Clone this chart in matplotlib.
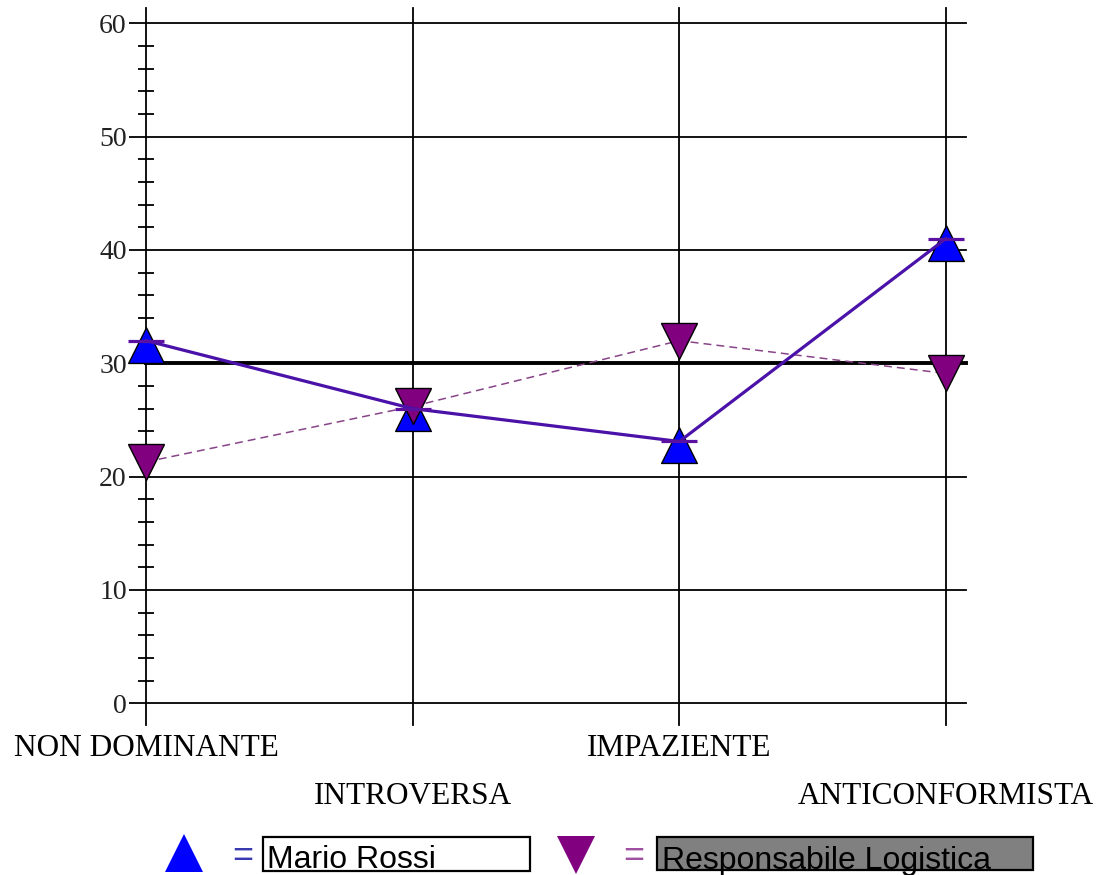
import matplotlib
matplotlib.use("Agg")
import matplotlib.pyplot as plt
from matplotlib.lines import Line2D
from matplotlib.patches import Rectangle

# ---- data ----
categories = ["NON DOMINANTE", "INTROVERSA", "IMPAZIENTE", "ANTICONFORMISTA"]
mario_rossi = [32.0, 26.0, 23.1, 41.0]
responsabile = [21.3, 26.2, 32.0, 29.1]
series_names = ["Mario Rossi", "Responsabile Logistica"]
y_major = [0, 10, 20, 30, 40, 50, 60]
y_minor = [v for v in range(0, 61, 2) if v % 10 != 0]
reference_level = 30

W, H = 1104, 875
fig = plt.figure(figsize=(W / 100, H / 100), dpi=100)
fig.patch.set_facecolor("white")

# axes mapped to pixel box: x 146..946, y 23.3..703.3
x0, x1 = 146, 946
yt, yb = 23.3, 703.3
ax = fig.add_axes([x0 / W, 1 - yb / H, (x1 - x0) / W, (yb - yt) / H])
ax.set_xlim(0, len(categories) - 1)
ax.set_ylim(y_major[0], y_major[-1])
for s in ax.spines.values():
    s.set_visible(False)
ax.set_facecolor("none")

ext_right = 20 / (x1 - x0)
ext_top = 15.5 / (yb - yt)
ext_bot = 22 / (yb - yt)

# horizontal grid lines
for v in y_major:
    lw = 2.8 if v == reference_level else 1.3
    ax.axhline(v, xmin=0, xmax=1 + ext_right, color="black", lw=lw,
               clip_on=False, zorder=1)
# vertical lines
for i in range(len(categories)):
    ax.axvline(i, ymin=-ext_bot, ymax=1 + ext_top, color="black", lw=1.3,
               clip_on=False, zorder=1)

# y ticks
ax.set_yticks(y_major)
ax.set_yticklabels([str(v) for v in y_major])
ax.set_yticks(y_minor, minor=True)
ax.tick_params(axis="y", which="major", direction="out", length=12.3,
               width=1.3, pad=1.5, labelsize=20, colors="black")
ax.tick_params(axis="y", which="minor", direction="inout", length=11.5,
               width=1.3)
for lbl in ax.get_yticklabels():
    lbl.set_fontfamily("Liberation Serif")
    lbl.set_color("#222222")

# x tick labels (staggered)
ax.set_xticks(range(len(categories)))
ax.set_xticklabels(categories)
ax.tick_params(axis="x", length=0, labelsize=22.5, pad=37.9)
for i, (tick, lbl) in enumerate(zip(ax.xaxis.get_major_ticks(),
                                    ax.get_xticklabels())):
    lbl.set_fontfamily("Liberation Serif")
    lbl.set_va("baseline")
    if i % 2 == 1:
        tick.set_pad(72.5)
        tick.label1.set_va("baseline")

xs = list(range(len(categories)))

# Responsabile dashed line
ax.plot(xs, responsabile, color="#884488", lw=1.1, ls=(0, (5.2, 3.3)),
        zorder=2, clip_on=False)

# up triangles (anchor slightly above the centre)
up_marker = [(0, 0.77), (-1, -1.23), (1, -1.23), (0, 0.77)]
ax.plot(xs, mario_rossi, ls="none", marker=up_marker, ms=31.6,
        mfc="#0000FF", mec="black", mew=1.0, zorder=3, clip_on=False)
# down triangles
ax.plot(xs, responsabile, ls="none", marker="v", ms=25.7,
        mfc="#800080", mec="black", mew=1.0, zorder=4, clip_on=False)
# Mario line with dash markers
ax.plot(xs, mario_rossi, color="#4A12A8", lw=2.3, marker="_", ms=26,
        mew=2.3, mec="#5A10A0", zorder=5, clip_on=False)

# ---- legend row (figure pixel coords) ----
def fx(px):
    return px / W

def fy(py):
    return 1 - py / H

fig.add_artist(Line2D([fx(184)], [fy(852.5)], marker="^", ms=28, ls="none",
                      mfc="#0000FF", mec="#0000FF", mew=0,
                      transform=fig.transFigure))
fig.add_artist(Line2D([fx(576)], [fy(855)], marker="v", ms=28, ls="none",
                      mfc="#800080", mec="#800080", mew=0,
                      transform=fig.transFigure))
fig.text(fx(243), fy(852), "=", color="#3A3AB0", fontsize=26,
         family="Liberation Sans", ha="center", va="center_baseline")
fig.text(fx(634), fy(852), "=", color="#A050A0", fontsize=26,
         family="Liberation Sans", ha="center", va="center_baseline")

fig.add_artist(Rectangle((fx(263), fy(871)), fx(530) - fx(263),
                         fy(837) - fy(871), transform=fig.transFigure,
                         facecolor="white", edgecolor="black", lw=1.6))
fig.add_artist(Rectangle((fx(657), fy(870)), fx(1033) - fx(657),
                         fy(837) - fy(870), transform=fig.transFigure,
                         facecolor="#808080", edgecolor="black", lw=1.6))
fig.text(fx(267), fy(868.5), series_names[0], fontsize=23,
         family="Liberation Sans", color="black", ha="left", va="baseline")
fig.text(fx(662), fy(868.5), series_names[1], fontsize=23,
         family="Liberation Sans", color="black", ha="left", va="baseline")

fig.savefig("out.png", dpi=100, facecolor="white")
